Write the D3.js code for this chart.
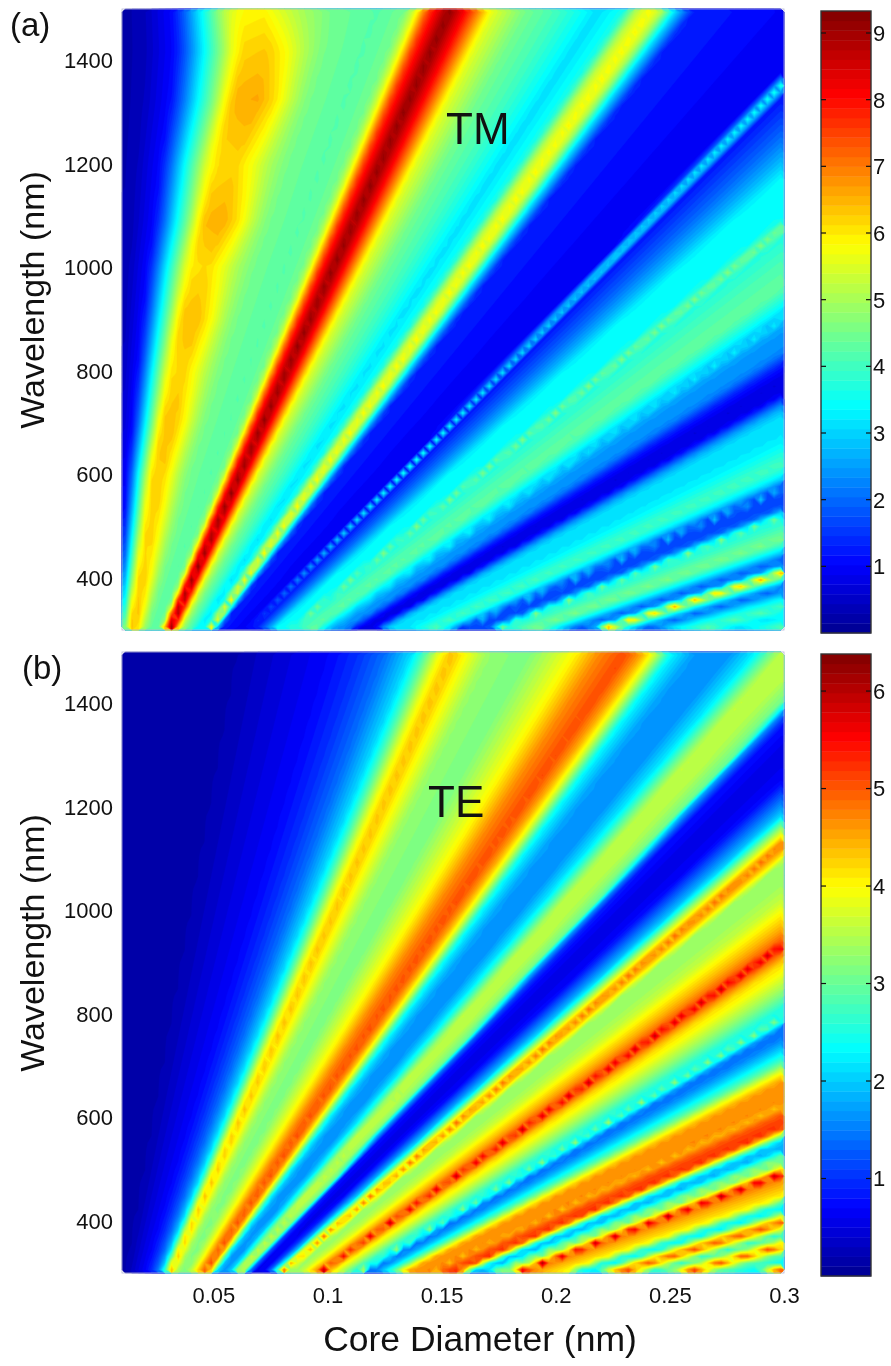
<!DOCTYPE html>
<html>
<head>
<meta charset="utf-8">
<script src="https://d3js.org/d3.v7.min.js"></script>
<style>
  html, body {margin: 0; padding: 0; background: #fff;}
  svg {display: block; filter: blur(0.5px);}
  text {font-family: "Liberation Sans", Arial, sans-serif; fill: #111;}
</style>
</head>
<body>
<div id="chart"></div>
<script>
// values read along the top, right and bottom edges of each map.
// every ridge runs through the origin, so a map is a profile over diameter/wavelength (x 1e-4)
var ratioTM = [0,0.067,0.137,0.224,0.262,0.312,0.35,0.393,0.43,0.5,0.56,0.62,0.689,0.815,0.893,0.925,0.963,1.025,1.074,1.11,1.15,1.25,1.345,1.427,1.46,1.535,1.575,1.615,1.65,1.685,1.74,2,2.17,2.21,2.25,2.38,2.47,2.55,2.73,2.78,2.82,2.99,3.11,3.25,3.3,3.33,3.36,3.4,3.57,3.68,3.76,3.83,3.96,4,4.1,4.22,4.46,4.67,4.82,4.97,5.08,5.2,5.25,5.3,5.58,5.7,5.75,5.8,6,6.28,6.48,6.7,6.88,7.1,7.22,7.3,7.38,7.56,7.87,8.24,8.72,9.12,9.5,9.87,10.5];
var valueTM = [0.15,0.2,0.4,1.1,2,3.4,4.4,5.5,6,6.1,5.6,5,4.5,4.2,4.5,5.5,7.5,9.2,8,6.9,5.6,4.5,4,3.4,3.1,3.6,5.2,5.9,5,3.2,1.3,1,1,3.7,1.2,2,2.7,3.4,3.5,4.7,3.7,4.2,4.3,3.3,2.8,3.3,2.7,2.5,2.3,1.3,0.9,0.7,0.9,1.5,2.6,3.2,3.2,3.7,4.1,3.5,2.8,1.6,3,1.6,1.8,3.3,4.8,3.6,4,4.6,3.8,2.7,1.8,2.6,5.2,6.6,5.2,3.5,1.8,3.2,4.2,3.1,3.6,4.4,3.6];

// the first TM ridge is not straight: where its crest sits and how far it rises, per wavelength
var bendWavelength = [300,450,600,700,800,900,1000,1090,1200,1324,1420,1500];
var bendCrest = [0.49,0.46,0.43,0.44,0.44,0.445,0.45,0.47,0.47,0.495,0.49,0.45];
var bendLift = [0.3,0.1,0.2,0.3,0.1,0.35,0.05,0.45,0.1,0.5,0.2,-0.2];

var ratioTE = [0,0.41,0.537,0.674,0.76,0.837,0.914,0.95,0.996,1.033,1.08,1.14,1.25,1.315,1.39,1.465,1.54,1.59,1.62,1.675,1.74,1.84,1.915,1.96,2,2.07,2.14,2.155,2.2,2.295,2.39,2.45,2.52,2.57,2.61,2.65,2.71,2.74,2.82,2.93,3,3.1,3.18,3.21,3.24,3.33,3.39,3.54,3.71,3.75,3.78,3.81,3.87,3.97,4.1,4.25,4.33,4.46,4.73,4.8,4.93,5.15,5.25,5.38,5.54,5.72,5.85,6,6.08,6.16,6.34,6.71,6.9,7.1,7.35,7.56,7.96,8.24,8.5,8.85,9.4,9.7,9.95,10.5];
var valueTE = [0.1,0.2,0.45,0.7,1,1.4,2.1,2.8,3.9,4.4,3.9,3.3,3.1,3.5,4,4.7,5.1,4.5,3.9,2.3,1.7,1.6,2.2,3,3.6,3.5,3,1.8,0.8,0.5,0.7,1.3,2,3.2,4,4.9,4,3.3,3.3,3.6,4,4.5,5,6,5,4.2,4,3.3,2.4,2.6,3.4,2.4,1.4,1.5,2.1,3,3.8,4.6,4.7,4.3,5,5.3,3.8,2,1.8,3.3,3,4.5,6.1,4.8,4.5,4,2.5,2.2,4.2,5.1,2.5,3.3,5.2,3,2.3,4.9,5,4];

var wavelengthTicks = [400,600,800,1000,1200,1400];
var diameterTicks = [0.05,0.1,0.15,0.2,0.25,0.3];
var barTicksTM = [1,2,3,4,5,6,7,8,9];
var barTicksTE = [1,2,3,4,5,6];

var jetStops = [0,0.11,0.365,0.625,0.865,1];
var jetColors = ["#000090","#0000ff","#00ffff","#ffff00","#ff0000","#800000"];

var gridCols = 100, gridRows = 93, levelCount = 64;

var svg = d3.select("#chart").append("svg")
    .attr("width", 891)
    .attr("height", 1366);

var jet = d3.scaleLinear().domain(jetStops).range(jetColors);

var crestAt = d3.scaleLinear().domain(bendWavelength).range(bendCrest);
var liftAt = d3.scaleLinear().domain(bendWavelength).range(bendLift);
var crestReach = d3.scaleLinear().domain([0.5, 0.8]).range([1, 0]).clamp(true);
var liftReach = d3.scaleLinear().domain([0.36, 0.42, 0.56, 0.66]).range([0, 1, 1, 0]).clamp(true);

function drawPanel(opt) {
    var x = d3.scaleLinear().domain([0.01, 0.3]).range([122, 784]);
    var y = d3.scaleLinear().domain([300, 1500]).range([opt.top + 621, opt.top]);
    var profile = d3.scaleLinear().domain(opt.ratio).range(opt.value).clamp(true);

    // grid -> pixels, d3.contours puts sample i at i + 0.5
    var col = d3.scaleLinear().domain([0, gridCols]).range(x.range());
    var row = d3.scaleLinear().domain([0, gridRows]).range([opt.top, opt.top + 621]);

    var grid = new Float64Array(gridCols * gridRows);
    for (var j = 0; j < gridRows; j++) {
        var lambda = y.invert(row(j + 0.5));
        for (var i = 0; i < gridCols; i++) {
            var d = x.invert(col(i + 0.5));
            var u = d / lambda * 1e4;
            var v;
            if (opt.bent) {
                var moved = u * (1 + (0.47 / crestAt(lambda) - 1) * crestReach(u));
                v = profile(moved) + liftAt(lambda) * liftReach(moved);
            } else {
                v = profile(u);
            }
            grid[j * gridCols + i] = v;
        }
    }

    var levels = d3.range(levelCount).map(function(k) {
        return opt.max * k / levelCount;
    });
    var contours = d3.contours().size([gridCols, gridRows]).thresholds(levels)(grid);
    var path = d3.geoPath(d3.geoTransform({
        point: function(px, py) { this.stream.point(col(px), row(py)); }
    }));

    var g = svg.append("g");
    g.selectAll("path")
        .data(contours)
        .enter()
        .append("path")
        .attr("d", path)
        .attr("fill", function(c) { return jet((c.value + opt.max / levelCount / 2) / opt.max); })
        .attr("stroke", function(c) { return jet((c.value + opt.max / levelCount / 2) / opt.max); })
        .attr("stroke-width", 0.3);

    svg.append("rect")
        .attr("x", 122)
        .attr("y", opt.top)
        .attr("width", 662)
        .attr("height", 621)
        .attr("fill", "none")
        .attr("stroke", "#b4b4d8")
        .attr("stroke-width", 0.8);

    var yAxis = svg.append("g")
        .attr("transform", "translate(122,0)")
        .call(d3.axisLeft(y).tickValues(wavelengthTicks).tickFormat(d3.format("d")).tickSize(0).tickPadding(9));
    yAxis.select(".domain").remove();
    yAxis.selectAll("text").style("font-size", "22px");

    svg.append("text")
        .attr("transform", "translate(44," + (opt.top + 291) + ") rotate(-90)")
        .attr("text-anchor", "middle")
        .style("font-size", "34px")
        .text("Wavelength (nm)");

    svg.append("text")
        .attr("x", opt.tagX)
        .attr("y", opt.top + 27)
        .style("font-size", "33px")
        .text(opt.tag);

    svg.append("text")
        .attr("x", opt.nameX)
        .attr("y", opt.nameY)
        .style("font-size", "44px")
        .text(opt.name);

    // colorbar
    var barTop = opt.top + 2;
    var bar = d3.scaleLinear().domain([0, opt.max]).range([barTop + 622, barTop]);
    svg.append("g").selectAll("rect")
        .data(d3.range(levelCount))
        .enter()
        .append("rect")
        .attr("x", 821)
        .attr("width", 50)
        .attr("y", function(k) { return bar(opt.max * (k + 1) / levelCount); })
        .attr("height", 622 / levelCount + 0.4)
        .attr("fill", function(k) { return jet((k + 0.5) / levelCount); });

    svg.append("rect")
        .attr("x", 821)
        .attr("y", barTop)
        .attr("width", 50)
        .attr("height", 622)
        .attr("fill", "none")
        .attr("stroke", "#333")
        .attr("stroke-width", 1.4);

    var ticks = svg.append("g").selectAll("g")
        .data(opt.barTicks)
        .enter()
        .append("g")
        .attr("transform", function(v) { return "translate(0," + bar(v) + ")"; });
    ticks.append("line").attr("x1", 821).attr("x2", 826).attr("stroke", "#111").attr("stroke-width", 1.2);
    ticks.append("line").attr("x1", 866).attr("x2", 871).attr("stroke", "#111").attr("stroke-width", 1.2);
    ticks.append("text")
        .attr("x", 873)
        .attr("dy", "0.36em")
        .style("font-size", "22px")
        .text(function(v) { return v; });

    return x;
}

var xMain = drawPanel({
    top: 9, ratio: ratioTM, value: valueTM, max: 9.33, barTicks: barTicksTM, bent: true,
    tag: "(a)", tagX: 10, name: "TM", nameX: 446, nameY: 144
});
drawPanel({
    top: 652, ratio: ratioTE, value: valueTE, max: 6.38, barTicks: barTicksTE, bent: false,
    tag: "(b)", tagX: 22, name: "TE", nameX: 428, nameY: 817
});

var xAxis = svg.append("g")
    .attr("transform", "translate(0,1273)")
    .call(d3.axisBottom(xMain).tickValues(diameterTicks).tickFormat(function(v) { return v; }).tickSize(0).tickPadding(14));
xAxis.select(".domain").remove();
xAxis.selectAll("text").style("font-size", "22px");

svg.append("text")
    .attr("x", 480)
    .attr("y", 1351)
    .attr("text-anchor", "middle")
    .style("font-size", "35.5px")
    .text("Core Diameter (nm)");
</script>
</body>
</html>
